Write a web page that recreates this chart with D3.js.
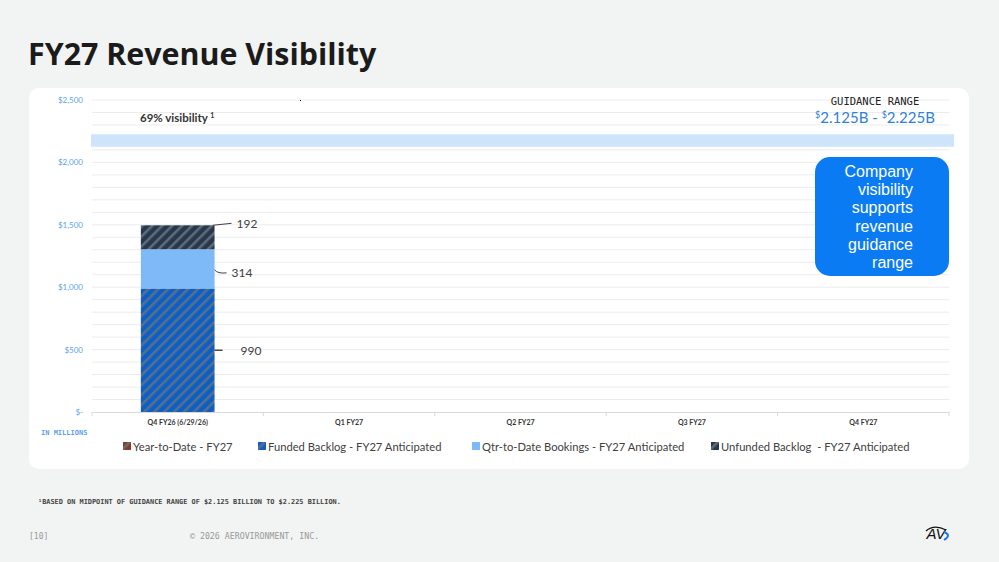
<!DOCTYPE html>
<html><head><meta charset="utf-8">
<script src="https://cdn.jsdelivr.net/npm/d3@7"></script>
<style>
html,body{margin:0;padding:0;background:#f2f3f3;}
svg{display:block;}
</style></head>
<body>
<svg id="c" width="999" height="562"></svg>
<script>
const categories = ["Q4 FY26 (6/29/26)", "Q1 FY27", "Q2 FY27", "Q3 FY27", "Q4 FY27"];
const seriesNames = ["Year-to-Date - FY27", "Funded Backlog - FY27 Anticipated", "Qtr-to-Date Bookings - FY27 Anticipated", "Unfunded Backlog  - FY27 Anticipated"];
const yearToDate = [0, 0, 0, 0, 0];
const fundedBacklog = [990, 0, 0, 0, 0];
const qtrToDate = [314, 0, 0, 0, 0];
const unfundedBacklog = [192, 0, 0, 0, 0];
const guidanceRange = [2125, 2225];
const yTickValues = [0, 500, 1000, 1500, 2000, 2500];
const yTickLabels = ["$-", "$500", "$1,000", "$1,500", "$2,000", "$2,500"];
const calloutLines = ["Company", "visibility", "supports", "revenue", "guidance", "range"];

const svg = d3.select("#c");
const mono = "'DejaVu Sans Mono', 'Liberation Mono', monospace";
const sans = "'Open Sans', sans-serif";
const lato = "Lato, 'Open Sans', sans-serif";

// patterns
const defs = svg.append("defs");
function hatch(id, base, stripe){
  const p = defs.append("pattern").attr("id", id).attr("patternUnits","userSpaceOnUse")
    .attr("width", 7).attr("height", 7).attr("patternTransform","rotate(45)");
  p.append("rect").attr("width",7).attr("height",7).attr("fill",base);
  p.append("rect").attr("x",0).attr("width",2.6).attr("height",7).attr("fill",stripe);
}
hatch("hYTD", "#8a3a22", "#6a6a6a");
hatch("hFunded", "#0c5fc4", "#586f8c");
hatch("hUnfunded", "#28384a", "#5d6b7a");
const fills = ["url(#hYTD)", "url(#hFunded)", "#7fbaf8", "url(#hUnfunded)"];

// Title
svg.append("text").attr("x", 28).attr("y", 65).text("FY27 Revenue Visibility")
  .attr("font-family", sans).attr("font-weight", 700).attr("font-size", 30.4).attr("fill", "#1b1b1b");

// card
svg.append("rect").attr("x", 29).attr("y", 88).attr("width", 940).attr("height", 381)
  .attr("rx", 10).attr("fill", "#ffffff");

const x = d3.scaleBand().domain(categories).range([92, 949]).padding(0);
const y = d3.scaleLinear().domain([0, 2500]).range([412, 100]);

// gridlines every 100
const g = svg.append("g");
g.selectAll("line.grid").data(d3.range(100, 2501, 100)).join("line")
  .attr("x1", 92).attr("x2", 949).attr("y1", d => y(d)).attr("y2", d => y(d))
  .attr("stroke", "#ececec").attr("stroke-width", 1);

// guidance band
g.append("rect").attr("x", 91).attr("width", 863)
  .attr("y", y(guidanceRange[1])).attr("height", y(guidanceRange[0]) - y(guidanceRange[1]))
  .attr("fill", "#cde4fb");

// y axis
const yAxis = d3.axisLeft(y).tickValues(yTickValues).tickFormat((d,i) => yTickLabels[i]).tickSize(0).tickPadding(9);
const ya = svg.append("g").attr("transform", "translate(92,0)").call(yAxis);
ya.select(".domain").remove();
ya.selectAll("text").attr("font-family", lato).attr("font-size", 8).attr("fill", "#5ea2ef");

// x axis
const xAxis = d3.axisBottom(x).tickSize(0).tickPadding(8);
const xa = svg.append("g").attr("transform", "translate(0,412)").call(xAxis);
xa.select(".domain").attr("stroke", "#d9d9d9");
xa.selectAll("text").attr("font-family", lato).attr("font-weight", 700).attr("font-size", 7).attr("fill", "#333");
svg.selectAll("line.sep").data(d3.range(categories.length + 1)).join("line")
  .attr("x1", i => 92 + i * x.step()).attr("x2", i => 92 + i * x.step())
  .attr("y1", 412).attr("y2", 416).attr("stroke", "#d9d9d9");

// stacked bars
const rows = categories.map((c, i) => ({cat: c, s0: yearToDate[i], s1: fundedBacklog[i], s2: qtrToDate[i], s3: unfundedBacklog[i]}));
const stack = d3.stack().keys(["s0", "s1", "s2", "s3"])(rows);
const bw = x.bandwidth() * 0.43;
stack.forEach((layer, li) => {
  svg.append("g").selectAll("rect").data(layer.filter(d => d[1] > d[0])).join("rect")
    .attr("x", d => x(d.data.cat) + (x.bandwidth() - bw) / 2)
    .attr("width", bw)
    .attr("y", d => y(d[1]))
    .attr("height", d => y(d[0]) - y(d[1]))
    .attr("fill", fills[li]);
});

// data labels with leaders
const bx = x(categories[0]) + (x.bandwidth() + bw) / 2;
const labFont = {f: lato, s: 12, c: "#404040"};
const fundedLayer = stack[1][0], qtdLayer = stack[2][0], unfLayer = stack[3][0];
// 192
svg.append("line").attr("x1", bx - 2).attr("y1", y(unfLayer[1])).attr("x2", bx + 17).attr("y2", y(unfLayer[1]) - 2)
  .attr("stroke", "#404040").attr("stroke-width", 1);
svg.append("text").attr("x", bx + 22).attr("y", y(unfLayer[1]) + 3).text(unfundedBacklog[0])
  .attr("font-family", labFont.f).attr("font-size", labFont.s).attr("fill", labFont.c);
// 314
const qm = (y(qtdLayer[0]) + y(qtdLayer[1])) / 2;
svg.append("path").attr("d", `M${bx},${qm + 1} Q${bx + 3},${qm + 5} ${bx + 12},${qm + 4}`)
  .attr("fill", "none").attr("stroke", "#404040").attr("stroke-width", 1);
svg.append("text").attr("x", bx + 17).attr("y", qm + 8).text(qtrToDate[0])
  .attr("font-family", labFont.f).attr("font-size", labFont.s).attr("fill", labFont.c);
// 990
const fm = (y(fundedLayer[0]) + y(fundedLayer[1])) / 2;
svg.append("line").attr("x1", bx).attr("y1", fm).attr("x2", bx + 8).attr("y2", fm)
  .attr("stroke", "#222").attr("stroke-width", 1.2);
svg.append("text").attr("x", bx + 26).attr("y", fm + 5).text(fundedBacklog[0])
  .attr("font-family", labFont.f).attr("font-size", labFont.s).attr("fill", labFont.c);

// 69% visibility
const vis = svg.append("text").attr("x", 140).attr("y", 122)
  .attr("font-family", lato).attr("font-weight", 700).attr("font-size", 11.5).attr("fill", "#333");
vis.append("tspan").text("69% visibility ");
vis.append("tspan").text("1").attr("font-size", 7).attr("dy", -4);

// stray dot
svg.append("rect").attr("x", 300).attr("y", 100).attr("width", 1).attr("height", 1).attr("fill", "#000");

// guidance range text
svg.append("text").attr("x", 875).attr("y", 105).attr("text-anchor", "middle").text("GUIDANCE RANGE")
  .attr("font-family", mono).attr("font-size", 10.5).attr("fill", "#222");
const gr = svg.append("text").attr("x", 875).attr("y", 123).attr("text-anchor", "middle")
  .attr("font-family", lato).attr("font-size", 15).attr("fill", "#2f80d9");
gr.append("tspan").text("$").attr("font-size", 9).attr("dy", -5);
gr.append("tspan").text("2.125B - ").attr("dy", 5);
gr.append("tspan").text("$").attr("font-size", 9).attr("dy", -5);
gr.append("tspan").text("2.225B").attr("dy", 5);

// callout
svg.append("rect").attr("x", 815).attr("y", 157).attr("width", 134).attr("height", 119).attr("rx", 15)
  .attr("fill", "#0b7bf3");
svg.append("g").selectAll("text").data(calloutLines).join("text")
  .attr("x", 913).attr("y", (d, i) => 177 + i * 18.2).attr("text-anchor", "end").text(d => d)
  .attr("font-family", "'Liberation Sans', Arial, sans-serif").attr("font-size", 16).attr("fill", "#fff");

// IN MILLIONS
svg.append("text").attr("x", 41).attr("y", 435).text("IN MILLIONS")
  .attr("font-family", mono).attr("font-size", 7).attr("font-weight", 700).attr("fill", "#5ea2ef");

// legend
const legendX = [123, 258, 472, 711];
const swatch = ["url(#hYTD)", "url(#hFunded)", "#7fbaf8", "url(#hUnfunded)"];
const lg = svg.append("g").selectAll("g").data(seriesNames).join("g")
  .attr("transform", (d, i) => `translate(${legendX[i]},447)`);
lg.append("rect").attr("x", 0).attr("y", -5).attr("width", 8).attr("height", 8).attr("fill", (d, i) => swatch[i]);
lg.append("text").attr("x", 10).attr("y", 4).text(d => d).style("white-space", "pre")
  .attr("font-family", lato).attr("font-size", 11.2).attr("fill", "#404040");

// footnote & footer
svg.append("text").attr("x", 38).attr("y", 504).text("¹BASED ON MIDPOINT OF GUIDANCE RANGE OF $2.125 BILLION TO $2.225 BILLION.")
  .attr("font-family", mono).attr("font-size", 6.9).attr("font-weight", 700).attr("fill", "#444");
svg.append("text").attr("x", 29).attr("y", 539).text("[10]")
  .attr("font-family", mono).attr("font-size", 8).attr("fill", "#999");
svg.append("text").attr("x", 190).attr("y", 539).text("© 2026 AEROVIRONMENT, INC.")
  .attr("font-family", mono).attr("font-size", 8.25).attr("fill", "#999");

// logo
const logo = svg.append("g").attr("transform", "translate(936,534)");
logo.append("text").attr("x", 0).attr("y", 5).attr("text-anchor", "middle").text("AV")
  .attr("font-family", "'Liberation Sans', Arial, sans-serif").attr("font-size", 15).attr("font-style", "italic").attr("fill", "#111");
logo.append("path").attr("d", "M-10,-3 Q-2,-10 10,-4").attr("fill", "none").attr("stroke", "#111").attr("stroke-width", 1.2);
logo.append("path").attr("d", "M8,-2 Q16,1 8,6").attr("fill", "none").attr("stroke", "#1a78e6").attr("stroke-width", 2);
</script>
</body></html>
